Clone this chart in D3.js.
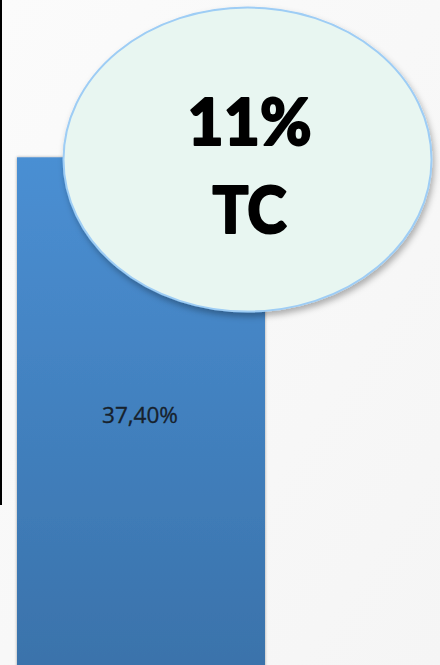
<!DOCTYPE html>
<html>
<head>
<meta charset="utf-8">
<script src="https://cdn.jsdelivr.net/npm/d3@7"></script>
<style>
  html, body { margin: 0; padding: 0; background: #f7f7f7; }
  svg { display: block; }
</style>
</head>
<body>
<div id="chart"></div>
<script>
// ---- data ----
const categories = ["TC"];
const values = [37.4];
const valueLabels = ["37,40%"];
const calloutLines = ["11%", "TC"];

const W = 440, H = 665;

const svg = d3.select("#chart").append("svg")
  .attr("width", W).attr("height", H);

const defs = svg.append("defs");

const bg = defs.append("linearGradient").attr("id", "bg")
  .attr("x1", 0).attr("y1", 0).attr("x2", 1).attr("y2", 1);
bg.append("stop").attr("offset", "0%").attr("stop-color", "#fbfbfb");
bg.append("stop").attr("offset", "100%").attr("stop-color", "#f5f5f5");

const barGrad = defs.append("linearGradient").attr("id", "barGrad")
  .attr("x1", 0).attr("y1", 0).attr("x2", 0).attr("y2", 1);
barGrad.append("stop").attr("offset", "0%").attr("stop-color", "#4a8fd3");
barGrad.append("stop").attr("offset", "100%").attr("stop-color", "#3a72aa");

const barShadow = defs.append("filter").attr("id", "barShadow")
  .attr("x", "-10%").attr("y", "-10%").attr("width", "120%").attr("height", "120%");
barShadow.append("feDropShadow").attr("dx", 0).attr("dy", 0)
  .attr("stdDeviation", 1.5).attr("flood-color", "#000").attr("flood-opacity", 0.35);

const ellShadow = defs.append("filter").attr("id", "ellShadow")
  .attr("x", "-10%").attr("y", "-10%").attr("width", "120%").attr("height", "125%");
ellShadow.append("feDropShadow").attr("dx", 2).attr("dy", 4)
  .attr("stdDeviation", 3).attr("flood-color", "#000").attr("flood-opacity", 0.3);

svg.append("rect").attr("width", W).attr("height", H).attr("fill", "url(#bg)");

// ---- scales ----
const x = d3.scaleBand().domain(categories).range([17, 265]).padding(0);
const y = d3.scaleLinear().domain([0, 40]).range([H, 122]);

// left axis line
svg.append("line")
  .attr("x1", 1).attr("x2", 1).attr("y1", 0).attr("y2", 505)
  .attr("stroke", "#000").attr("stroke-width", 2);

// bars
const data = categories.map((c, i) => ({ c, v: values[i], label: valueLabels[i] }));

svg.selectAll("rect.bar").data(data).enter().append("rect")
  .attr("class", "bar")
  .attr("x", d => x(d.c))
  .attr("y", d => y(d.v))
  .attr("width", x.bandwidth())
  .attr("height", d => y(0) - y(d.v) + 10)
  .attr("fill", "url(#barGrad)")
  .attr("filter", "url(#barShadow)");

svg.selectAll("text.vlabel").data(data).enter().append("text")
  .attr("class", "vlabel")
  .attr("x", d => x(d.c) + x.bandwidth() / 2 - 1)
  .attr("y", 423)
  .attr("text-anchor", "middle")
  .attr("font-family", "'Open Sans', sans-serif")
  .attr("font-size", 21)
  .attr("font-weight", 500)
  .attr("fill", "#17212c")
  .attr("stroke", "#17212c")
  .attr("stroke-width", 0.3)
  .attr("textLength", 76)
  .attr("lengthAdjust", "spacingAndGlyphs")
  .text(d => d.label);

// callout ellipse
const cx = 247.5, cy = 159.5;
svg.append("ellipse")
  .attr("cx", cx).attr("cy", cy).attr("rx", 184).attr("ry", 152)
  .attr("fill", "#e8f6f1")
  .attr("stroke", "#9ecdf5").attr("stroke-width", 2)
  .attr("filter", "url(#ellShadow)");

const baselines = [145, 233];
const widths = [124, 74];
svg.selectAll("text.callout").data(calloutLines).enter().append("text")
  .attr("class", "callout")
  .attr("x", 249.5)
  .attr("y", (d, i) => baselines[i])
  .attr("text-anchor", "middle")
  .attr("font-family", "Lato, 'Open Sans', sans-serif")
  .attr("font-weight", 900)
  .attr("font-size", 65)
  .attr("fill", "#000")
  .attr("stroke", "#000")
  .attr("stroke-width", 2)
  .attr("stroke-linejoin", "round")
  .attr("textLength", (d, i) => widths[i])
  .attr("lengthAdjust", "spacingAndGlyphs")
  .text(d => d);
</script>
</body>
</html>
